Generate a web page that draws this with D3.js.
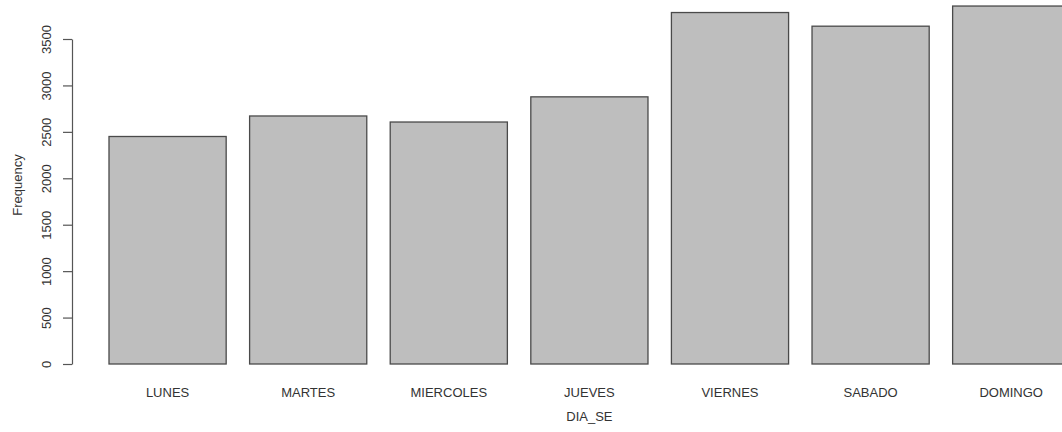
<!DOCTYPE html>
<html>
<head>
<meta charset="utf-8">
<script src="https://cdn.jsdelivr.net/npm/d3@7"></script>
<style>
  html, body { margin: 0; padding: 0; background: #fff; }
  svg { display: block; }
  text { font-family: "Liberation Sans", Arial, sans-serif; fill: #333; }
</style>
</head>
<body>
<svg id="chart" width="1062" height="432"></svg>
<script>
// Accidents per day of the week
const categories = ["LUNES", "MARTES", "MIERCOLES", "JUEVES", "VIERNES", "SABADO", "DOMINGO"];
const frequency = [2450, 2671, 2606, 2877, 3785, 3638, 3855];
const yTicks = [0, 500, 1000, 1500, 2000, 2500, 3000, 3500];
const xTitle = "DIA_SE";
const yTitle = "Frequency";

const svg = d3.select("#chart");

// barplot-style layout: width 1, space 0.2 between bars
const barWidth = 1, space = 0.2;
const starts = categories.map((c, i) => space + i * (barWidth + space));

const x = d3.scaleLinear().domain([0.2, 8.4]).range([109, 109 + 8.2 * 117.17]);
const y = d3.scaleLinear().domain([0, 3500]).range([364, 39]);

// bars
svg.append("g")
  .selectAll("rect")
  .data(categories)
  .join("rect")
  .attr("x", (d, i) => x(starts[i]))
  .attr("y", (d, i) => y(frequency[i]))
  .attr("width", (d, i) => x(starts[i] + barWidth) - x(starts[i]))
  .attr("height", (d, i) => y(0) - y(frequency[i]))
  .attr("fill", "#bebebe")
  .attr("stroke", "#4a4a4a")
  .attr("stroke-width", 1.3);

// y axis
const yAxis = d3.axisLeft(y)
  .tickValues(yTicks)
  .tickFormat(d3.format("d"))
  .tickSize(9)
  .tickSizeOuter(0);
const gy = svg.append("g").attr("transform", "translate(72,0)").call(yAxis);
gy.attr("font-family", null).attr("font-size", null);
gy.select(".domain").attr("stroke", "#555").attr("stroke-width", 1.2);
gy.selectAll(".tick line").attr("stroke", "#555").attr("stroke-width", 1.2);
gy.selectAll(".tick text")
  .attr("x", null).attr("dy", null)
  .attr("transform", "translate(-26,0) rotate(-90)")
  .attr("text-anchor", "middle")
  .attr("dominant-baseline", "central")
  .style("font-size", "13px")
  .style("fill", "#333");

// category labels
svg.append("g")
  .selectAll("text")
  .data(categories)
  .join("text")
  .attr("x", (d, i) => x(starts[i] + barWidth / 2))
  .attr("y", 397)
  .attr("text-anchor", "middle")
  .style("font-size", "13px")
  .text(d => d);

// axis titles
svg.append("text")
  .attr("x", x(4.3))
  .attr("y", 421)
  .attr("text-anchor", "middle")
  .style("font-size", "13px")
  .text(xTitle);

svg.append("text")
  .attr("transform", `translate(22,${y(1927)}) rotate(-90)`)
  .attr("text-anchor", "middle")
  .style("font-size", "13px")
  .text(yTitle);
</script>
</body>
</html>
